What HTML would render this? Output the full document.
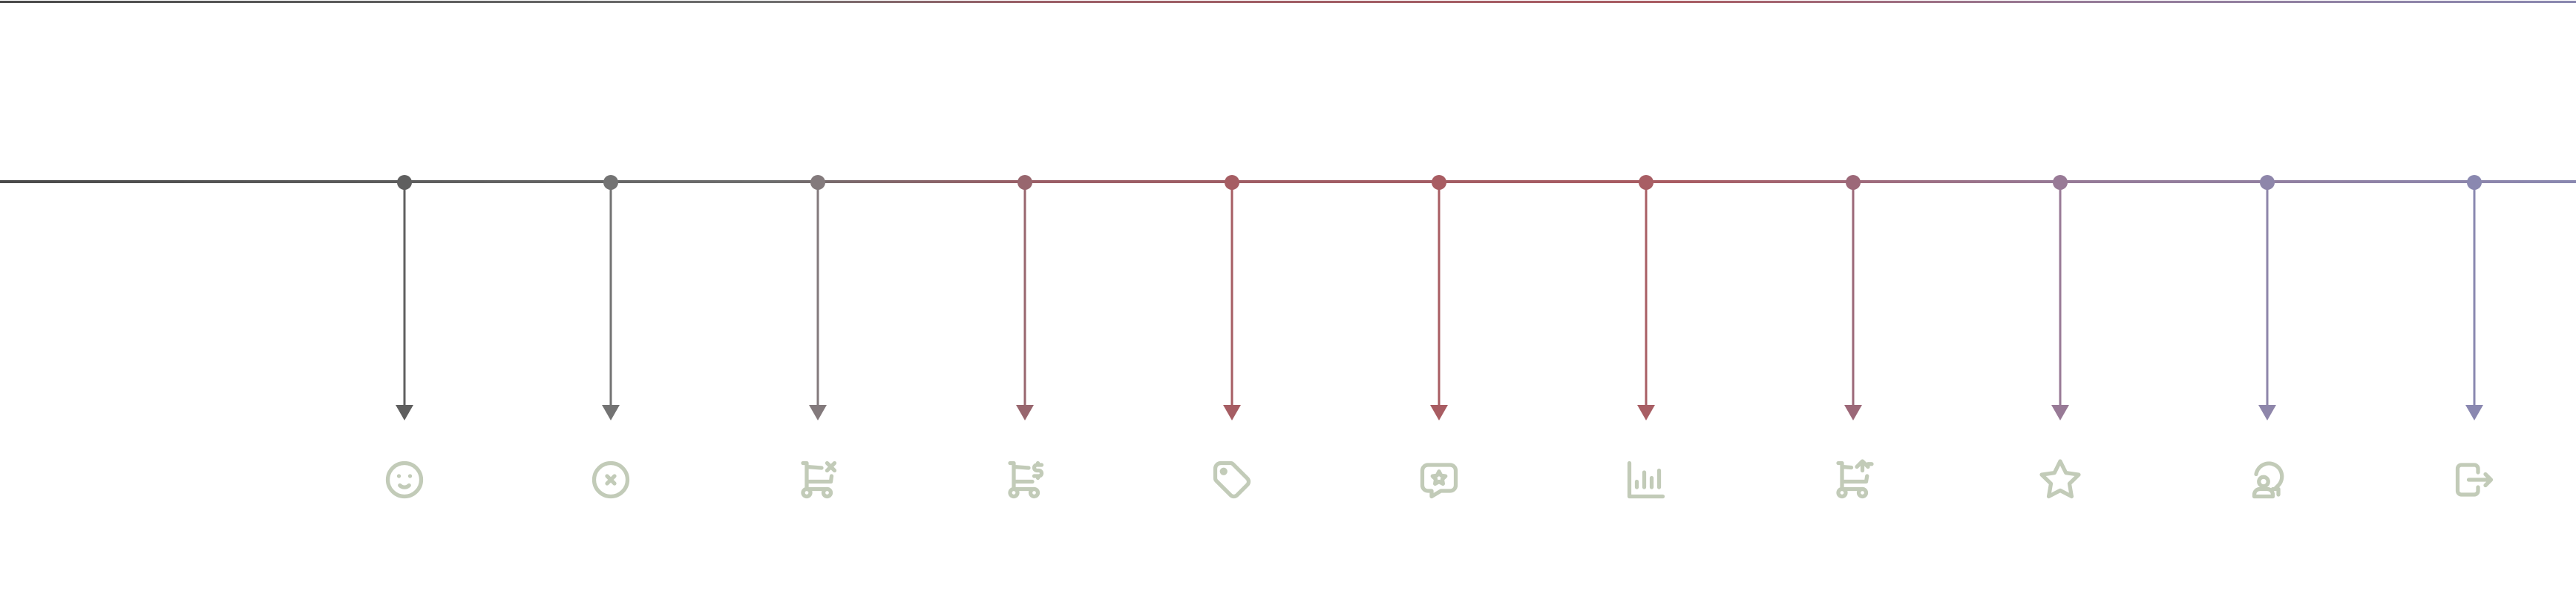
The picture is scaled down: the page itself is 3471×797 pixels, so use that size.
<!DOCTYPE html>
<html><head><meta charset="utf-8"><style>html,body{margin:0;padding:0;background:#fff;width:3471px;height:797px;overflow:hidden}</style></head>
<body>
<svg width="3471" height="797" viewBox="0 0 3471 797" xmlns="http://www.w3.org/2000/svg">
<defs>
<linearGradient id="g" x1="0" y1="0" x2="3471" y2="0" gradientUnits="userSpaceOnUse">
<stop offset="0" stop-color="#4a4a4a"/><stop offset="0.3" stop-color="#6e6e6e"/><stop offset="0.4" stop-color="#9a5e66"/><stop offset="0.65" stop-color="#a85c62"/><stop offset="0.8" stop-color="#967a96"/><stop offset="1" stop-color="#8a88b0"/>
</linearGradient>
</defs>
<rect x="0" y="1" width="3471" height="3" fill="url(#g)"/>
<rect x="0" y="243" width="3471" height="4" fill="url(#g)"/>
<g stroke-width="3">
<g stroke="#5f5f5f" fill="#5f5f5f"><line x1="545" y1="245" x2="545" y2="548"/><circle cx="545" cy="246" r="10" stroke="none"/><polygon points="533,546 557,546 545,567" stroke="none"/></g>
<g stroke="#737373" fill="#737373"><line x1="823" y1="245" x2="823" y2="548"/><circle cx="823" cy="246" r="10" stroke="none"/><polygon points="811,546 835,546 823,567" stroke="none"/></g>
<g stroke="#837a7c" fill="#837a7c"><line x1="1102" y1="245" x2="1102" y2="548"/><circle cx="1102" cy="246" r="10" stroke="none"/><polygon points="1090,546 1114,546 1102,567" stroke="none"/></g>
<g stroke="#98666e" fill="#98666e"><line x1="1381" y1="245" x2="1381" y2="548"/><circle cx="1381" cy="246" r="10" stroke="none"/><polygon points="1369,546 1393,546 1381,567" stroke="none"/></g>
<g stroke="#a65d63" fill="#a65d63"><line x1="1660" y1="245" x2="1660" y2="548"/><circle cx="1660" cy="246" r="10" stroke="none"/><polygon points="1648,546 1672,546 1660,567" stroke="none"/></g>
<g stroke="#a85c62" fill="#a85c62"><line x1="1939" y1="245" x2="1939" y2="548"/><circle cx="1939" cy="246" r="10" stroke="none"/><polygon points="1927,546 1951,546 1939,567" stroke="none"/></g>
<g stroke="#a85e64" fill="#a85e64"><line x1="2218" y1="245" x2="2218" y2="548"/><circle cx="2218" cy="246" r="10" stroke="none"/><polygon points="2206,546 2230,546 2218,567" stroke="none"/></g>
<g stroke="#9c6878" fill="#9c6878"><line x1="2497" y1="245" x2="2497" y2="548"/><circle cx="2497" cy="246" r="10" stroke="none"/><polygon points="2485,546 2509,546 2497,567" stroke="none"/></g>
<g stroke="#987a96" fill="#987a96"><line x1="2776" y1="245" x2="2776" y2="548"/><circle cx="2776" cy="246" r="10" stroke="none"/><polygon points="2764,546 2788,546 2776,567" stroke="none"/></g>
<g stroke="#8e86aa" fill="#8e86aa"><line x1="3055" y1="245" x2="3055" y2="548"/><circle cx="3055" cy="246" r="10" stroke="none"/><polygon points="3043,546 3067,546 3055,567" stroke="none"/></g>
<g stroke="#8a88b0" fill="#8a88b0"><line x1="3334" y1="245" x2="3334" y2="548"/><circle cx="3334" cy="246" r="10" stroke="none"/><polygon points="3322,546 3346,546 3334,567" stroke="none"/></g>
</g>
<g fill="none" stroke="#c2cbb8" stroke-width="2.1" stroke-linecap="round" stroke-linejoin="round">
<g transform="translate(515,617) scale(2.5)"><circle cx="12" cy="12" r="9"/><path d="M9 10h.01M15 10h.01M9.5 15a3.5 3.5 0 0 0 5 0"/></g>
<g transform="translate(793,617) scale(2.5)"><circle cx="12" cy="12" r="9"/><path d="M10 10l4 4m0 -4l-4 4"/></g>
<g transform="translate(1072,617) scale(2.5)"><circle cx="6" cy="19" r="2"/><circle cx="17" cy="19" r="2"/><path d="M17 17h-11v-14h-2M6 5l8 .6M19.4 10l-.4 3h-13M17 3l4 4M21 3l-4 4"/></g>
<g transform="translate(1351,617) scale(2.5)"><circle cx="6" cy="19" r="2"/><circle cx="17" cy="19" r="2"/><path d="M17 17h-11v-14h-2M6 5l8 .6M16 13h-10M21 4h-2.5a1.5 1.5 0 0 0 0 3h1a1.5 1.5 0 0 1 0 3h-2.5M19 10v1m0 -8v1"/></g>
<g transform="translate(1630,617) scale(2.5)"><circle cx="7.5" cy="7.5" r="1"/><path d="M3 6v5.172a2 2 0 0 0 .586 1.414l7.71 7.71a2.41 2.41 0 0 0 3.408 0l5.592 -5.592a2.41 2.41 0 0 0 0 -3.408l-7.71 -7.71a2 2 0 0 0 -1.414 -.586h-5.172a3 3 0 0 0 -3 3z"/></g>
<g transform="translate(1909,617) scale(2.5)"><path d="M18 4a3 3 0 0 1 3 3v8a3 3 0 0 1 -3 3h-5l-5 3v-3h-2a3 3 0 0 1 -3 -3v-8a3 3 0 0 1 3 -3z"/><path d="M12 7.5l1.1 2.2l2.4.35l-1.75 1.7l.4 2.4l-2.15 -1.15l-2.15 1.15l.4 -2.4l-1.75 -1.7l2.4 -.35z"/></g>
<g transform="translate(2188,617) scale(2.5)"><path d="M3 3v18h18M7 16v-3M11 16v-8M15 16v-5M19 16v-9"/></g>
<g transform="translate(2467,617) scale(2.5)"><circle cx="6" cy="19" r="2"/><circle cx="17" cy="19" r="2"/><path d="M17 17h-11v-14h-2M6 5l5 .4M19.5 10l-.5 3h-13M14 5l3 -3l3 3M17 2v5M22 3.5h-2"/></g>
<g transform="translate(2746,617) scale(2.5)"><path d="M12 17.75l-6.172 3.245l1.179 -6.873l-5 -4.867l6.9 -1l3.086 -6.253l3.086 6.253l6.9 1l-5 4.867l1.179 6.873z"/></g>
<g transform="translate(3025,617) scale(2.5)"><circle cx="10" cy="13" r="2.5"/><path d="M5 21v-1a3 3 0 0 1 3 -3h4a3 3 0 0 1 3 3v1zM6 9a7 7 0 1 1 12 6l-2 2M15 17h3v3"/></g>
<g transform="translate(3304,617) scale(2.5)"><path d="M14 8v-2a2 2 0 0 0 -2 -2h-7a2 2 0 0 0 -2 2v12a2 2 0 0 0 2 2h7a2 2 0 0 0 2 -2v-2M9 12h12l-3 -3M18 15l3 -3"/></g>
</g>
</svg>
</body></html>
